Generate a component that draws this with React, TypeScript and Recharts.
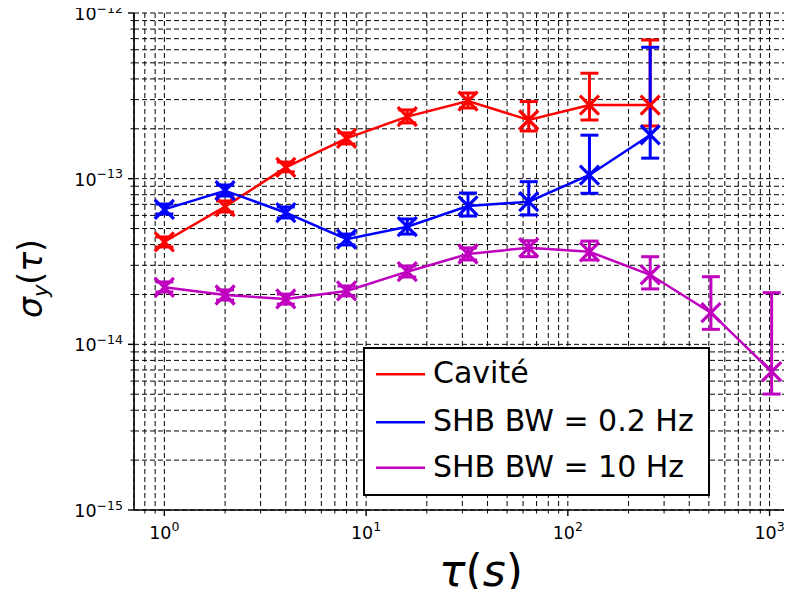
import React from "react";
import { LineChart, Line, XAxis, YAxis, CartesianGrid, ErrorBar, Legend, Label } from "recharts";

// averaging times (s)
const tau = [1, 2, 4, 8, 16, 32, 64, 128, 256, 512, 1024];

// Cavité
const caviteVals = [4.16e-14, 6.78e-14, 1.17e-13, 1.75e-13, 2.37e-13, 2.94e-13, 2.26e-13, 2.78e-13, 2.78e-13];
const caviteLow = [3.87e-14, 6.29e-14, 1.1e-13, 1.62e-13, 2.17e-13, 2.67e-13, 1.94e-13, 2.26e-13, 2.08e-13];
const caviteHigh = [4.45e-14, 7.33e-14, 1.26e-13, 1.89e-13, 2.6e-13, 3.29e-13, 2.92e-13, 4.33e-13, 6.87e-13];

// SHB BW = 0.2 Hz
const shb02Vals = [6.53e-14, 8.46e-14, 6.23e-14, 4.31e-14, 5.13e-14, 6.84e-14, 7.26e-14, 1.052e-13, 1.835e-13];
const shb02Low = [6.12e-14, 7.86e-14, 5.79e-14, 3.98e-14, 4.63e-14, 5.95e-14, 6.04e-14, 8.16e-14, 1.33e-13];
const shb02High = [7.03e-14, 9.16e-14, 6.75e-14, 4.63e-14, 5.71e-14, 8.19e-14, 9.59e-14, 1.83e-13, 6.21e-13];

// SHB BW = 10 Hz
const shb10Vals = [2.21e-14, 1.985e-14, 1.878e-14, 2.1e-14, 2.745e-14, 3.51e-14, 3.83e-14, 3.62e-14, 2.63e-14, 1.552e-14, 6.84e-15];
const shb10Low = [2.07e-14, 1.85e-14, 1.75e-14, 1.96e-14, 2.55e-14, 3.23e-14, 3.38e-14, 3.23e-14, 2.16e-14, 1.232e-14, 5.01e-15];
const shb10High = [2.38e-14, 2.13e-14, 2.01e-14, 2.25e-14, 2.97e-14, 3.82e-14, 4.22e-14, 4.2e-14, 3.38e-14, 2.56e-14, 2.05e-14];

const seriesNames = ["Cavité", "SHB BW = 0.2 Hz", "SHB BW = 10 Hz"];
const seriesColors = ["#ff0000", "#0000ff", "#bf00bf"];

// ticks
const xMajor = [1, 10, 100, 1000];
const yMajor = [1e-15, 1e-14, 1e-13, 1e-12];
const minorMult = [2, 3, 4, 5, 6, 7, 8, 9];
const xDomain = [0.7071, 1448];
const yDomain = [1e-15, 1e-12];

const minorOf = (majors: number[], dom: number[]) =>
  [majors[0] / 10, ...majors]
    .flatMap((m) => minorMult.map((k) => m * k))
    .filter((v) => v >= dom[0] && v <= dom[1]);

const xTicks = [...xMajor, ...minorOf(xMajor, xDomain)];
const yTicks = [...yMajor, ...minorOf(yMajor, yDomain)];

const build = (vals: number[], lo: number[], hi: number[]) =>
  vals.map((v, i) => ({ x: tau[i], y: v, err: [v - lo[i], hi[i] - v] }));

const seriesData = [
  build(caviteVals, caviteLow, caviteHigh),
  build(shb02Vals, shb02Low, shb02High),
  build(shb10Vals, shb10Low, shb10High),
];

const FONT = "DejaVu Sans";

const isMajor = (v: number) => {
  const l = Math.log10(v);
  return Math.abs(l - Math.round(l)) < 1e-6;
};
const expText = (v: number) => {
  const e = Math.round(Math.log10(v));
  return e < 0 ? "\u2212" + Math.abs(e) : String(e);
};

const XTick = (props: any) => {
  const { x, y, payload } = props;
  const major = isMajor(payload.value);
  return (
    <g>
      <line x1={x} x2={x} y1={y} y2={y + (major ? 6 : 3.5)} stroke="#000" strokeWidth={major ? 1.4 : 1} />
      {major && (
        <text x={x} y={y + 28.5} textAnchor="middle" fontFamily={FONT} fontSize={17.5} fill="#000">
          10
          <tspan dy={-8} fontSize={12.5}>
            {expText(payload.value)}
          </tspan>
        </text>
      )}
    </g>
  );
};

const YTick = (props: any) => {
  const { x, y, payload } = props;
  const major = isMajor(payload.value);
  return (
    <g>
      <line x1={x} x2={x - (major ? 6 : 3.5)} y1={y} y2={y} stroke="#000" strokeWidth={major ? 1.4 : 1} />
      {major && (
        <text x={x - 11} y={y + 7} textAnchor="end" fontFamily={FONT} fontSize={17.5} fill="#000">
          10
          <tspan dy={-7.5} fontSize={12.5}>
            {expText(payload.value)}
          </tspan>
        </text>
      )}
    </g>
  );
};

const XTitle = (props: any) => {
  const vb = props.viewBox;
  return (
    <text x={vb.x + vb.width / 2 + 13} y={vb.y + 76} textAnchor="middle" fontFamily={FONT} fontSize={44} fill="#000">
      <tspan fontStyle="italic">τ</tspan>
      <tspan>(</tspan>
      <tspan fontStyle="italic">s</tspan>
      <tspan>)</tspan>
    </text>
  );
};

const YTitle = (props: any) => {
  const vb = props.viewBox;
  const cx = vb.x + 42;
  const cy = vb.y + vb.height / 2 + 17;
  return (
    <text
      x={cx}
      y={cy}
      transform={`rotate(-90, ${cx}, ${cy})`}
      textAnchor="middle"
      fontFamily={FONT}
      fontSize={33}
      fill="#000"
    >
      <tspan fontStyle="italic">σ</tspan>
      <tspan fontStyle="italic" fontSize={21} dy={6}>
        y
      </tspan>
      <tspan dy={-6}>(</tspan>
      <tspan fontStyle="italic">τ</tspan>
      <tspan>)</tspan>
    </text>
  );
};

const makeDot = (color: string) => (p: any) => {
  const { cx, cy, index } = p;
  if (cx == null || cy == null) return <g key={index} />;
  const r = 9.5;
  return (
    <path
      key={index}
      d={`M${cx - r},${cy - r}L${cx + r},${cy + r}M${cx - r},${cy + r}L${cx + r},${cy - r}`}
      stroke={color}
      strokeWidth={3.2}
      fill="none"
    />
  );
};

const LegendBox = (props: any) => {
  const items = props.payload && props.payload.length ? props.payload : seriesNames.map((n, i) => ({ value: n, color: seriesColors[i] }));
  const rows = [27.3, 75.3, 120.7];
  return (
    <svg width={348} height={150} style={{ display: "block" }}>
      <rect x={1} y={1} width={345} height={147} fill="#fff" stroke="#000" strokeWidth={2} />
      {items.map((it: any, i: number) => (
        <g key={i}>
          <line x1={13} x2={62} y1={rows[i]} y2={rows[i]} stroke={it.color} strokeWidth={2.5} />
          <text x={70} y={rows[i] + 9} fontFamily={FONT} fontSize={30} fill="#000">
            {it.value}
          </text>
        </g>
      ))}
    </svg>
  );
};

export default function App() {
  return (
    <div style={{ margin: -8, width: 792, height: 597, overflow: "hidden", position: "relative", background: "#fff" }}>
      <LineChart width={820} height={597} margin={{ top: 13, right: 18, bottom: 0, left: 0 }} style={{ overflow: "visible" }}>
        <CartesianGrid stroke="#000" strokeWidth={1} strokeDasharray="5 3" />
        <XAxis
          xAxisId={0}
          dataKey="x"
          type="number"
          scale="log"
          domain={xDomain}
          allowDataOverflow
          ticks={xTicks}
          interval={0}
          tick={<XTick />}
          tickLine={false}
          tickSize={0}
          tickMargin={0}
          height={87}
          axisLine={{ stroke: "#000", strokeWidth: 1.6 }}
          label={<Label content={<XTitle />} />}
        />
        <XAxis
          xAxisId="top"
          orientation="top"
          dataKey="x"
          type="number"
          scale="log"
          domain={xDomain}
          allowDataOverflow
          tick={false}
          tickLine={false}
          height={0}
          axisLine={{ stroke: "#000", strokeWidth: 1.6 }}
        />
        <YAxis
          type="number"
          scale="log"
          domain={yDomain}
          allowDataOverflow
          ticks={yTicks}
          interval={0}
          tick={<YTick />}
          tickLine={false}
          tickSize={0}
          tickMargin={0}
          width={134}
          axisLine={{ stroke: "#000", strokeWidth: 1.6 }}
          label={<Label content={<YTitle />} />}
        />
        {seriesData.map((d, i) => (
          <Line
            key={seriesNames[i]}
            data={d}
            dataKey="y"
            name={seriesNames[i]}
            type="linear"
            stroke={seriesColors[i]}
            strokeWidth={2.5}
            dot={makeDot(seriesColors[i])}
            activeDot={false}
            isAnimationActive={false}
            legendType="line"
          >
            <ErrorBar dataKey="err" direction="y" width={9} strokeWidth={3} stroke={seriesColors[i]} />
          </Line>
        ))}
        <Legend
          layout="horizontal"
          verticalAlign="middle"
          align="center"
          content={<LegendBox />}
          wrapperStyle={{ position: "absolute", left: 363, top: 347, width: 348, height: 150 }}
        />
      </LineChart>
    </div>
  );
}
